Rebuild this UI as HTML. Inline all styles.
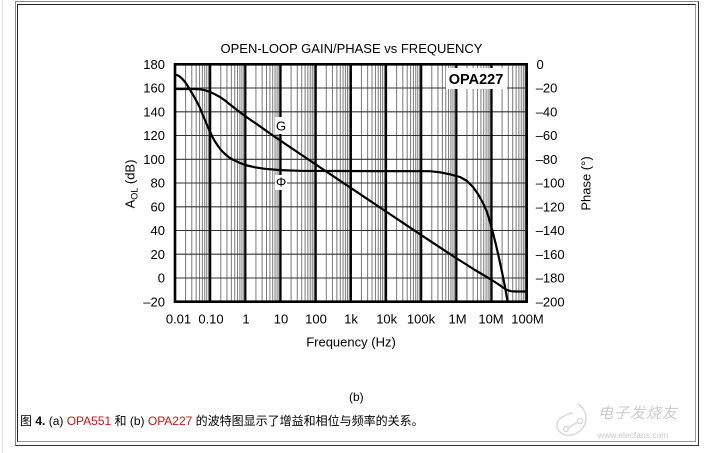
<!DOCTYPE html>
<html><head><meta charset="utf-8"><style>
html,body{margin:0;padding:0;background:#fff;}
body{width:705px;height:453px;position:relative;overflow:hidden;font-family:"Liberation Sans","Noto Sans CJK SC",sans-serif;}
.edge{position:absolute;left:2px;top:0;width:1px;height:453px;background:#ddd;}
.outer{position:absolute;left:15px;top:1px;width:682px;height:443px;border-top:1px solid #888;border-left:1px solid #888;border-right:1px solid #333;border-bottom:1px solid #333;}
.inner{position:absolute;left:17px;top:4px;width:677px;height:436px;border-top:1px solid #222;border-left:1px solid #222;border-right:1px solid #999;border-bottom:1px solid #999;}
.cap{position:absolute;left:20px;top:413px;font-size:12px;line-height:16px;color:#000;white-space:nowrap;}
.cap .r{color:#d01010;}
.b{position:absolute;left:349px;top:389px;font-size:12px;line-height:16px;}
.wm1{position:absolute;left:598px;top:402px;font-size:15px;color:#ccc;font-style:italic;font-family:"Noto Sans CJK SC",sans-serif;letter-spacing:1px;}
.wm2{position:absolute;left:598px;top:430px;font-size:8.5px;color:#c8c8c8;}
svg{position:absolute;left:0;top:0;}
</style></head><body>
<div class="edge"></div>
<div class="outer"></div>
<div class="inner"></div>
<svg width="705" height="453" viewBox="0 0 705 453" xmlns="http://www.w3.org/2000/svg">
<defs>
<g id="d" stroke="#7a7a7a" stroke-width="1">
<line x1="10.59" y1="64.3" x2="10.59" y2="301.7"/>
<line x1="16.78" y1="64.3" x2="16.78" y2="301.7"/>
<line x1="21.17" y1="64.3" x2="21.17" y2="301.7"/>
<line x1="24.58" y1="64.3" x2="24.58" y2="301.7"/>
<line x1="27.37" y1="64.3" x2="27.37" y2="301.7"/>
<line x1="29.72" y1="64.3" x2="29.72" y2="301.7"/>
<line x1="31.76" y1="64.3" x2="31.76" y2="301.7"/>
<line x1="33.56" y1="64.3" x2="33.56" y2="301.7"/>
</g>
</defs>
<use href="#d" x="175"/>
<use href="#d" x="210.17"/>
<use href="#d" x="245.34"/>
<use href="#d" x="280.51"/>
<use href="#d" x="315.68"/>
<use href="#d" x="350.85"/>
<use href="#d" x="386.02"/>
<use href="#d" x="421.19"/>
<use href="#d" x="456.36"/>
<use href="#d" x="491.53"/>
<g stroke="#333" stroke-width="1.1">
<line x1="175" y1="88" x2="527" y2="88"/>
<line x1="175" y1="111.8" x2="527" y2="111.8"/>
<line x1="175" y1="135.5" x2="527" y2="135.5"/>
<line x1="175" y1="159.3" x2="527" y2="159.3"/>
<line x1="175" y1="183" x2="527" y2="183"/>
<line x1="175" y1="206.8" x2="527" y2="206.8"/>
<line x1="175" y1="230.5" x2="527" y2="230.5"/>
<line x1="175" y1="254.2" x2="527" y2="254.2"/>
<line x1="175" y1="278" x2="527" y2="278"/>
</g>
<g stroke="#000" stroke-width="2.2">
<line x1="210.17" y1="64.3" x2="210.17" y2="301.7"/>
<line x1="245.34" y1="64.3" x2="245.34" y2="301.7"/>
<line x1="280.51" y1="64.3" x2="280.51" y2="301.7"/>
<line x1="315.68" y1="64.3" x2="315.68" y2="301.7"/>
<line x1="350.85" y1="64.3" x2="350.85" y2="301.7"/>
<line x1="386.02" y1="64.3" x2="386.02" y2="301.7"/>
<line x1="421.19" y1="64.3" x2="421.19" y2="301.7"/>
<line x1="456.36" y1="64.3" x2="456.36" y2="301.7"/>
<line x1="491.53" y1="64.3" x2="491.53" y2="301.7"/>
</g>
<rect x="175" y="64.3" width="351.7" height="237.4" fill="none" stroke="#000" stroke-width="2.6"/>
<!-- label backgrounds -->
<rect x="446" y="68" width="61" height="21" fill="#fff"/>
<rect x="275" y="117" width="12" height="17" fill="#fff"/>
<rect x="275" y="175" width="12" height="15" fill="#fff"/>
<!-- curves -->
<g fill="none" stroke="#000" stroke-width="2.2" stroke-linejoin="round" stroke-linecap="round">
<polyline points="175.5,89 195,89 200,89.3 205,90.2 210,92 215,94.3 220,97 225,100.5 230,104.5 235,108.5 240,112.3 250,119.5 260,126.3 270,133.5 281,141 316,164.6 351,188.1 386,211.5 421,234.9 456,258 475,270 491,279.5 498,284 503,287.5 507,290 511,291.2 516,291.5 526,291.5"/>
<polyline points="175.5,74.5 179,76 182,78.5 185,82 188,86.5 191,91.5 194,96.5 197,102 200,108 203,115.5 206,122.5 209,129.5 212,136 215,141.5 218,146 221,150 225,154 229,157.3 234,160.3 240,163 247,165.5 255,167.3 265,168.8 280,170.1 300,170.8 330,171 430,171.2 440,172.3 450,174.3 460,177 467,181 473,187 478,194 483,203 487,212 490,222 493,233 496,245 499,258 502,272 505,287 507.5,301"/>
</g>
<g font-family="Liberation Sans, Arial, sans-serif" font-size="13" fill="#000">
<text x="351.5" y="53" text-anchor="middle">OPEN-LOOP GAIN/PHASE vs FREQUENCY</text>
<text x="476" y="84" text-anchor="middle" font-weight="bold" font-size="14.5">OPA227</text>
<text x="281" y="130.5" text-anchor="middle">G</text>
<text x="281" y="186.5" text-anchor="middle">Φ</text>
<g text-anchor="end">
<text x="165" y="68.9">180</text>
<text x="165" y="92.6">160</text>
<text x="165" y="116.4">140</text>
<text x="165" y="140.1">120</text>
<text x="165" y="163.9">100</text>
<text x="165" y="187.6">80</text>
<text x="165" y="211.4">60</text>
<text x="165" y="235.1">40</text>
<text x="165" y="258.8">20</text>
<text x="165" y="282.6">0</text>
<text x="165" y="306.3">–20</text>
</g>
<g text-anchor="start">
<text x="536.5" y="68.9">0</text>
<text x="535.7" y="92.6">–20</text>
<text x="535.7" y="116.4">–40</text>
<text x="535.7" y="140.1">–60</text>
<text x="535.7" y="163.9">–80</text>
<text x="535.7" y="187.6">–100</text>
<text x="535.7" y="211.4">–120</text>
<text x="535.7" y="235.1">–140</text>
<text x="535.7" y="258.8">–160</text>
<text x="535.7" y="282.6">–180</text>
<text x="535.7" y="306.3">–200</text>
</g>
<g text-anchor="middle">
<text x="178.5" y="323.6">0.01</text>
<text x="211" y="323.6">0.10</text>
<text x="246" y="323.6">1</text>
<text x="281" y="323.6">10</text>
<text x="316" y="323.6">100</text>
<text x="351" y="323.6">1k</text>
<text x="386.7" y="323.6">10k</text>
<text x="421" y="323.6">100k</text>
<text x="457.5" y="323.6">1M</text>
<text x="491" y="323.6">10M</text>
<text x="527.5" y="323.6">100M</text>
<text x="351" y="346.3">Frequency (Hz)</text>
</g>
<text transform="translate(134.5,184) rotate(-90)" text-anchor="middle">A<tspan font-size="9" dy="3">OL</tspan><tspan dy="-3"> (dB)</tspan></text>
<text transform="translate(590.5,183.5) rotate(-90)" text-anchor="middle">Phase (°)</text>
</g>
<g fill="none" stroke="#d8d8d8" stroke-width="1.5">
<path d="M578,404 C590,412 588,428 575,434 C565,438 556,432 557,424 C558,418 566,414 573,413"/>
<circle cx="566" cy="429" r="2.5"/>
<circle cx="580" cy="421" r="2.5"/>
<line x1="568" y1="428" x2="578" y2="422"/>
</g>
</svg>
<div class="b">(b)</div>
<div class="cap">图 <b>4.</b> (a) <span class="r">OPA551</span> 和 (b) <span class="r">OPA227</span> 的波特图显示了增益和相位与频率的关系。</div>
<div class="wm1">电子发烧友</div>
<div class="wm2">www.elecfans.com</div>
</body></html>
